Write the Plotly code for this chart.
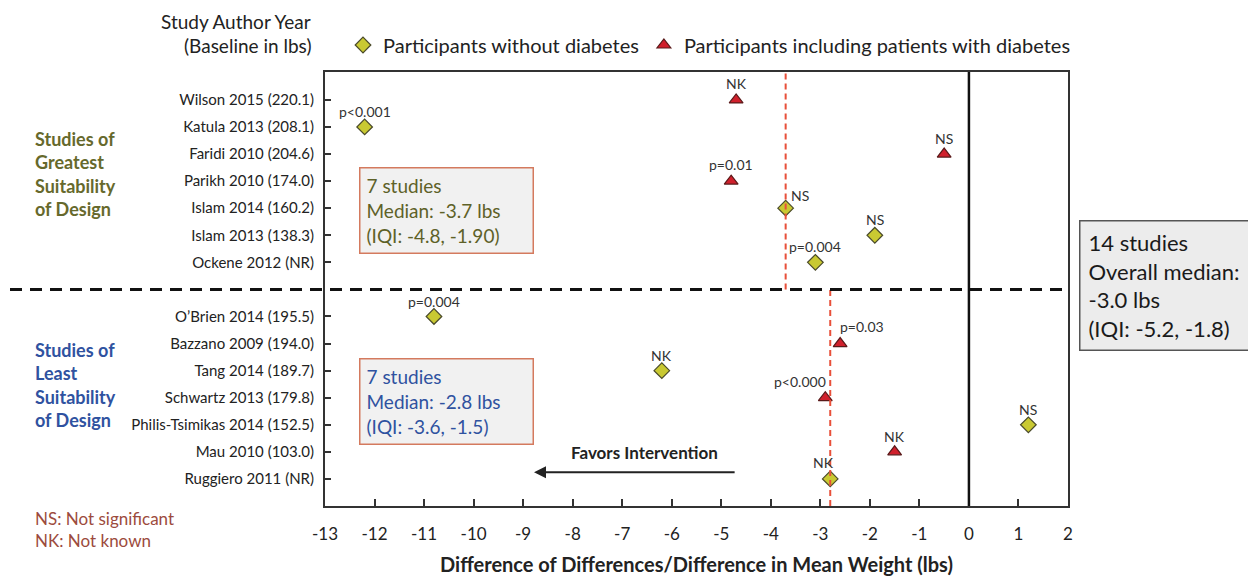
import plotly.graph_objects as go

# ---------------- data ----------------
studies = ["Wilson 2015 (220.1)", "Katula 2013 (208.1)", "Faridi 2010 (204.6)",
           "Parikh 2010 (174.0)", "Islam 2014 (160.2)", "Islam 2013 (138.3)",
           "Ockene 2012 (NR)",
           "O\u2019Brien 2014 (195.5)", "Bazzano 2009 (194.0)", "Tang 2014 (189.7)",
           "Schwartz 2013 (179.8)", "Philis-Tsimikas 2014 (152.5)", "Mau 2010 (103.0)",
           "Ruggiero 2011 (NR)"]
rows = [1, 2, 3, 4, 5, 6, 7, 9, 10, 11, 12, 13, 14, 15]
effect = [-4.7, -12.2, -0.5, -4.8, -3.7, -1.9, -3.1,
          -10.8, -2.6, -6.2, -2.9, 1.2, -1.5, -2.8]
has_diabetes = [True, False, True, True, False, False, False,
                False, True, False, True, False, True, False]
pvals = ["NK", "p<0.001", "NS", "p=0.01", "NS", "NS", "p=0.004",
         "p=0.004", "p=0.03", "NK", "p<0.000", "NS", "NK", "NK"]
divider_row = 8
median_top = -3.7
median_bottom = -2.8
x_ticks = list(range(-13, 3))
x_ticktext = [str(v) for v in x_ticks]

# label offsets (style)
lab_dx = [0, 0, 0, 0, 14, 0, 0, 0, 22, 0, -25, 0, 0, -7]
lab_dy = [16, 15, 16, 17, 13, 16, 16, 15, 17, 15, 16, 15, 15, 16]

FONT = "Lato"
YR = [16.0, -0.03]
# page offset of 8px body margin: plot area from x=325..1068, y=72..506 on page
PL, PT, PW, PH = 325, 72, 743, 434


def xp(px):
    return (px - PL) / PW


def yp_pix(py):
    return (PT + PH - py) / PH


def ypaper(v):
    return (YR[0] - v) / (YR[0] - YR[1])


fig = go.Figure()

nx = [e for e, d in zip(effect, has_diabetes) if not d]
ny = [r for r, d in zip(rows, has_diabetes) if not d]
dx = [e for e, d in zip(effect, has_diabetes) if d]
dy = [r for r, d in zip(rows, has_diabetes) if d]

fig.add_trace(go.Scatter(x=nx, y=ny, mode="markers", name="Participants without diabetes",
                         marker=dict(symbol="diamond", size=12, color="#c9c932",
                                     line=dict(color="#4a4a2a", width=1.2))))
fig.add_trace(go.Scatter(x=dx, y=dy, mode="markers", name="Participants including patients with diabetes",
                         marker=dict(symbol="triangle-up", size=12, color="#d0202c",
                                     line=dict(color="#5a1a1a", width=1.2))))

shapes = []
shapes.append(dict(type="line", xref="x", yref="paper", x0=0, x1=0, y0=0, y1=1,
                   line=dict(color="#111", width=2.5)))
shapes.append(dict(type="line", xref="x", yref="paper", x0=median_top, x1=median_top,
                   y0=ypaper(divider_row), y1=1,
                   line=dict(color="#e8503a", width=2, dash="6px,4px")))
shapes.append(dict(type="line", xref="x", yref="paper", x0=median_bottom, x1=median_bottom,
                   y0=0, y1=ypaper(divider_row),
                   line=dict(color="#e8503a", width=2, dash="6px,4px")))
shapes.append(dict(type="line", xref="paper", yref="paper", x0=xp(10), x1=1,
                   y0=ypaper(divider_row), y1=ypaper(divider_row),
                   line=dict(color="#111", width=3, dash="12px,8px")))

ann = []
for e, r, p, ddx, ddy in zip(effect, rows, pvals, lab_dx, lab_dy):
    ann.append(dict(x=e, y=r, xref="x", yref="y", text=p, showarrow=False,
                    xshift=ddx, yshift=ddy, font=dict(family=FONT, size=14, color="#333")))

ann.append(dict(xref="paper", yref="paper", x=xp(313), y=yp_pix(22),
                xanchor="right", yanchor="middle", text="Study Author Year", showarrow=False,
                font=dict(family=FONT, size=19, color="#222")))
ann.append(dict(xref="paper", yref="paper", x=xp(313), y=yp_pix(45),
                xanchor="right", yanchor="middle", text="(Baseline in lbs)", showarrow=False,
                font=dict(family=FONT, size=19, color="#222")))
ann.append(dict(xref="paper", yref="paper", x=xp(33), y=yp_pix(174),
                xanchor="left", yanchor="middle", align="left", showarrow=False,
                text="<b>Studies of<br>Greatest<br>Suitability<br>of Design</b>",
                font=dict(family=FONT, size=18, color="#66692c")))
ann.append(dict(xref="paper", yref="paper", x=xp(33), y=yp_pix(385),
                xanchor="left", yanchor="middle", align="left", showarrow=False,
                text="<b>Studies of<br>Least<br>Suitability<br>of Design</b>",
                font=dict(family=FONT, size=18, color="#2f52a0")))
ann.append(dict(xref="paper", yref="paper", x=xp(33), y=yp_pix(529),
                xanchor="left", yanchor="middle", align="left", showarrow=False,
                text="NS: Not significant<br>NK: Not known",
                font=dict(family=FONT, size=17, color="#9c4b3d")))
ann.append(dict(xref="paper", yref="paper", x=xp(359), y=yp_pix(167),
                xanchor="left", yanchor="top", align="left", valign="middle", showarrow=False,
                width=160, height=72, borderpad=6,
                text="7 studies<br>Median: -3.7 lbs<br>(IQI: -4.8, -1.90)",
                bgcolor="#f1f1f1", bordercolor="#d47a5e", borderwidth=1.5,
                font=dict(family=FONT, size=19, color="#5e6128")))
ann.append(dict(xref="paper", yref="paper", x=xp(359), y=yp_pix(358),
                xanchor="left", yanchor="top", align="left", valign="middle", showarrow=False,
                width=160, height=72, borderpad=6,
                text="7 studies<br>Median: -2.8 lbs<br>(IQI: -3.6, -1.5)",
                bgcolor="#f1f1f1", bordercolor="#d47a5e", borderwidth=1.5,
                font=dict(family=FONT, size=19, color="#2f52a0")))
ann.append(dict(xref="paper", yref="paper", x=xp(1079), y=yp_pix(220),
                xanchor="left", yanchor="top", align="left", valign="middle", showarrow=False,
                width=200, height=112, borderpad=8,
                text="14 studies<br>Overall median:<br>-3.0 lbs<br>(IQI: -5.2, -1.8)",
                bgcolor="#ececec", bordercolor="#555", borderwidth=1.5,
                font=dict(family=FONT, size=22, color="#1a1a1a")))
ann.append(dict(xref="x", yref="y", x=-8.78, y=14.75, ax=-4.7, ay=14.75, axref="x", ayref="y",
                showarrow=True, arrowhead=2, arrowsize=1.2, arrowwidth=2, arrowcolor="#222", text=""))
ann.append(dict(xref="x", yref="y", x=-6.55, y=14.02, text="<b>Favors Intervention</b>",
                showarrow=False, font=dict(family=FONT, size=17, color="#222")))

fig.update_layout(
    width=1248, height=568,
    margin=dict(l=PL - 8, r=1256 - (PL + PW), t=PT - 8, b=576 - (PT + PH), autoexpand=False),
    paper_bgcolor="white", plot_bgcolor="white",
    font=dict(family=FONT, color="#222"),
    shapes=shapes, annotations=ann,
    showlegend=True,
    legend=dict(orientation="h", x=xp(343), y=yp_pix(45),
                xanchor="left", yanchor="middle", font=dict(family=FONT, size=20, color="#222"),
                itemwidth=30, tracegroupgap=0, bgcolor="rgba(0,0,0,0)"),
    xaxis=dict(range=[-13, 2], tickvals=x_ticks, ticktext=x_ticktext, ticks="inside", ticklen=7,
               tickwidth=1.5, tickcolor="#333", showline=True, mirror=True, linecolor="#333",
               linewidth=2, showgrid=False, zeroline=False, ticklabelstandoff=12, automargin=False,
               tickfont=dict(family=FONT, size=17, color="#222"),
               title=dict(text="<b>Difference of Differences/Difference in Mean Weight (lbs)</b>",
                          font=dict(family=FONT, size=20, color="#222"), standoff=18)),
    yaxis=dict(range=YR, tickvals=rows, ticktext=studies, ticks="inside", ticklen=6,
               tickwidth=1.5, tickcolor="#333", showline=True, mirror=True, linecolor="#333",
               linewidth=2, showgrid=False, zeroline=False, ticklabelstandoff=6, automargin=False,
               tickfont=dict(family=FONT, size=15, color="#222")),
)

fig.write_html("out.html")
